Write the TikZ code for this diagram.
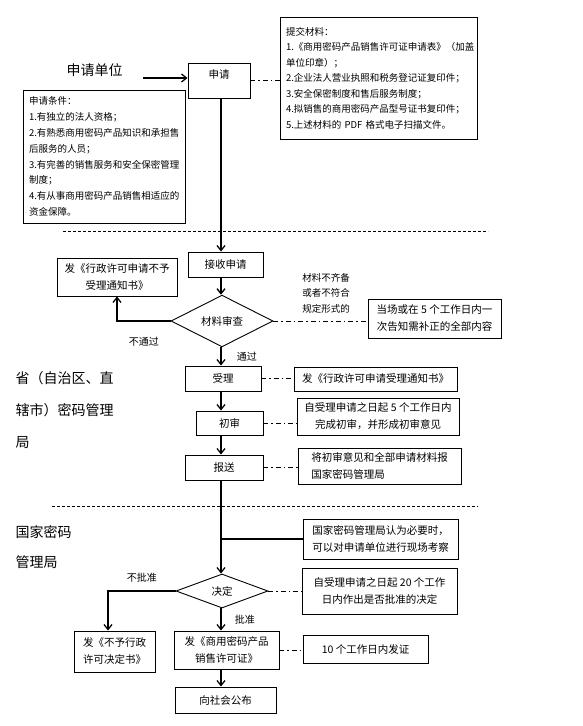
\documentclass[tikz,border=0pt]{standalone}
\usepackage{fontspec}
\setmainfont{Noto Sans CJK SC}
\usetikzlibrary{arrows.meta, shapes.geometric}

\begin{document}
\begin{tikzpicture}[x=1pt, y=-1pt,
      box/.style={draw, line width=0.9pt, inner sep=0pt, align=center,
                  font=\fontsize{10.5}{17}\selectfont},
      listbox/.style={draw, line width=0.9pt, inner xsep=6pt, inner ysep=0pt, align=left,
                  font=\fontsize{9.5}{15.5}\selectfont},
      decision/.style={draw, diamond, line width=0.9pt, inner sep=0pt,
                  font=\fontsize{10.5}{12}\selectfont},
      arr/.style={-{Straight Barb[length=5pt, width=8pt]}, line width=1.3pt},
      link/.style={line width=1.3pt},
      note/.style={line width=1pt, dash pattern=on 5pt off 3pt on 1.5pt off 3pt},
      sep/.style={line width=0.7pt, dash pattern=on 3pt off 2pt},
      lbl/.style={font=\fontsize{10}{15.5}\selectfont, align=center},
      side/.style={font=\fontsize{14}{32}\selectfont, align=left, anchor=west}]
    \useasboundingbox (0,0) rectangle (583,726);
    \coordinate (spine) at (221,0);
    \node[side] (unit) at (63,70) {申请单位};
    \node[side] (province) at (12,410) {省（自治区、直\\辖市）密码管理\\局};
    \node[side, font=\fontsize{14}{30}\selectfont] (state) at (12,547) {国家密码\\管理局};
    \node[box, minimum width=62, minimum height=35, text depth=12pt] (apply) at (219,80.5) {申请};
    \node[listbox, text width=185, minimum height=122] (materials) at (378.5,78)
      {提交材料：\\1.《商用密码产品销售许可证申请表》（加盖\\单位印章）；\\2.企业法人营业执照和税务登记证复印件；\\3.安全保密制度和售后服务制度；\\4.拟销售的商用密码产品型号证书复印件；\\5.上述材料的 PDF 格式电子扫描文件。};
    \node[listbox, text width=150, minimum height=133, font=\fontsize{9.5}{15.8}\selectfont] (conditions) at (104,156.5)
      {申请条件：\\1.有独立的法人资格；\\2.有熟悉商用密码产品知识和承担售\\后服务的人员；\\3.有完善的销售服务和安全保密管理\\制度；\\4.有从事商用密码产品销售相适应的\\资金保障。};
    \node[box, minimum width=75, minimum height=25] (receive) at (225.5,264.5) {接收申请};
    \node[box, minimum width=120, minimum height=38] (refuse) at (117,277) {发《行政许可申请不予\\受理通知书》};
    \node[decision, minimum width=102, minimum height=34] (check) at (222,321) {材料审查};
    \node[lbl, font=\fontsize{9.5}{15.5}\selectfont] (incomplete) at (326,293) {材料不齐备\\或者不符合\\规定形式的};
    \node[box, minimum width=133, minimum height=39] (fix) at (434.5,318.5) {当场或在 5 个工作日内一\\次告知需补正的全部内容};
    \node[box, minimum width=76, minimum height=25] (accept) at (223,378.5) {受理};
    \node[box, minimum width=163, minimum height=24] (acceptnote) at (375.5,379) {发《行政许可申请受理通知书》};
    \node[box, minimum width=67, minimum height=24] (review) at (229.5,423) {初审};
    \node[box, minimum width=162, minimum height=37] (reviewnote) at (378,416.5) {自受理申请之日起 5 个工作日内\\完成初审，并形成初审意见};
    \node[box, minimum width=78, minimum height=25] (submit) at (224,467.5) {报送};
    \node[box, align=left, minimum width=163, minimum height=36] (submitnote) at (379.5,466) {将初审意见和全部申请材料报\\国家密码管理局};
    \node[box, minimum width=155, minimum height=40] (inspect) at (380.5,539) {国家密码管理局认为必要时，\\可以对申请单位进行现场考察};
    \node[decision, minimum width=92, minimum height=34] (decide) at (222,591) {决定};
    \node[box, minimum width=155, minimum height=46] (decidenote) at (379.5,591) {自受理申请之日起 20 个工作\\日内作出是否批准的决定};
    \node[box, minimum width=81, minimum height=41] (deny) at (114.5,651.5) {发《不予行政\\许可决定书》};
    \node[box, minimum width=105, minimum height=38] (license) at (226.5,650) {发《商用密码产品\\销售许可证》};
    \node[box, minimum width=125, minimum height=28] (issue) at (365.5,649) {10 个工作日内发证};
    \node[box, minimum width=101, minimum height=26] (publish) at (225.5,700) {向社会公布};
    \coordinate (unitarr) at (143,78);
    \draw[arr] (unitarr) -- (unitarr -| apply.west);
    \draw[note] (apply.east) -- (apply.east -| materials.west);
    \draw[arr] (spine |- apply.south) -- (spine |- receive.north);
    \draw[arr] (spine |- receive.south) -- (spine |- check.north);
    \draw[arr] (check.west) -| node[lbl, pos=0.25, below=12pt]{不通过} (refuse.south);
    \draw[note] (check.east) -- (check.east -| fix.west);
    \draw[arr] (spine |- check.south) -- node[lbl, right=12pt]{通过} (spine |- accept.north);
    \draw[note] (accept.east) -- (accept.east -| acceptnote.west);
    \draw[arr] (spine |- accept.south) -- (spine |- review.north);
    \draw[note] (review.east) -- (review.east -| reviewnote.west);
    \draw[arr] (spine |- review.south) -- (spine |- submit.north);
    \draw[note] (submit.east) -- (submit.east -| submitnote.west);
    \draw[arr] (spine |- submit.south) -- (spine |- decide.north);
    \draw[link] (spine |- inspect.west) -- (inspect.west);
    \draw[arr] (decide.west) -| node[lbl, pos=0.25, above=5pt]{不批准} ([xshift=-6.5pt]deny.north);
    \draw[note] (decide.east) -- (decide.east -| decidenote.west);
    \draw[arr] (spine |- decide.south) -- node[lbl, right=10pt]{批准} (spine |- license.north);
    \draw[note] (license.east) -- (license.east -| issue.west);
    \draw[arr] (spine |- license.south) -- (spine |- publish.north);
    \draw[sep] (63,231) -- (488,231);
    \draw[sep] (52,506) -- (478,506);
  \end{tikzpicture}
\end{document}
